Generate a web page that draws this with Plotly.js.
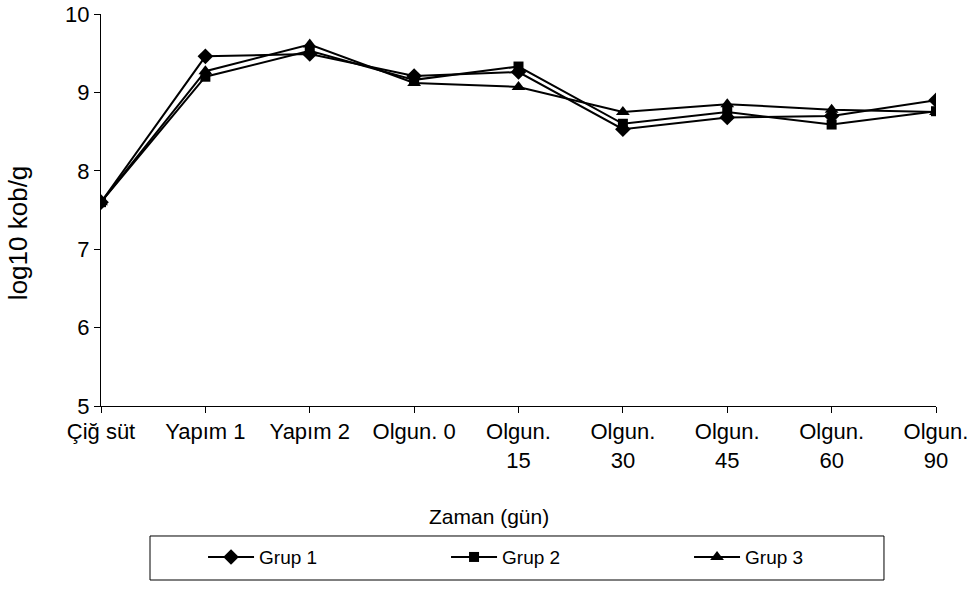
<!DOCTYPE html>
<html>
<head>
<meta charset="utf-8">
<script src="https://cdn.plot.ly/plotly-3.0.1.min.js"></script>
<style>html,body{margin:0;padding:0;background:#fff;}#chart{width:976px;height:593px;}</style>
</head>
<body>
<div id="chart"></div>
<script>
var categories = ["Çiğ süt", "Yapım 1", "Yapım 2", "Olgun. 0", "Olgun.<br>15", "Olgun.<br>30", "Olgun.<br>45", "Olgun.<br>60", "Olgun.<br>90"];
var grup1 = [7.60, 9.46, 9.49, 9.21, 9.26, 8.53, 8.68, 8.70, 8.90];
var grup2 = [7.60, 9.20, 9.53, 9.16, 9.33, 8.60, 8.75, 8.59, 8.76];
var grup3 = [7.60, 9.27, 9.61, 9.12, 9.07, 8.75, 8.85, 8.78, 8.75];
var seriesNames = ["Grup 1", "Grup 2", "Grup 3"];
var xTitle = "Zaman (gün)";
var yTitle = "log10 kob/g";
var symbols = ["diamond", "square", "triangle-up"];
var sizes = [12, 10, 12];
var values = [grup1, grup2, grup3];

var traces = values.map(function (v, i) {
  return {
    x: categories,
    y: v,
    name: seriesNames[i],
    type: "scatter",
    mode: "lines+markers",
    line: {color: "#000000", width: 2},
    marker: {symbol: symbols[i], size: sizes[i], color: "#000000"}
  };
});

var fam = "Liberation Sans, Arial, sans-serif";
var tickFont = {family: fam, size: 22, color: "#000000"};
var xTitleFont = {family: fam, size: 21, color: "#000000"};
var yTitleFont = {family: fam, size: 26, color: "#000000"};
var legendFont = {family: fam, size: 19, color: "#000000"};

var layout = {
  width: 976,
  height: 593,
  margin: {l: 101, r: 40, t: 14, b: 187, autoexpand: false},
  paper_bgcolor: "#ffffff",
  plot_bgcolor: "#ffffff",
  font: tickFont,
  showlegend: true,
  xaxis: {
    type: "category",
    range: [0, 8],
    automargin: false,
    showgrid: false,
    zeroline: false,
    showline: true,
    linecolor: "#000000",
    linewidth: 1,
    ticks: "outside",
    ticklen: 6,
    tickcolor: "#000000",
    tickfont: tickFont
  },
  yaxis: {
    range: [5, 10],
    dtick: 1,
    automargin: false,
    showgrid: false,
    zeroline: false,
    showline: true,
    linecolor: "#000000",
    linewidth: 1,
    ticks: "outside",
    ticklen: 6,
    tickcolor: "#000000",
    tickfont: tickFont
  },
  annotations: [{
    text: xTitle,
    xref: "paper", yref: "paper",
    x: 0.4647, y: -0.283,
    xanchor: "center", yanchor: "middle",
    showarrow: false,
    font: xTitleFont
  }, {
    text: yTitle,
    xref: "paper", yref: "paper",
    x: -0.0994, y: 0.441,
    xanchor: "center", yanchor: "middle",
    textangle: -90,
    showarrow: false,
    font: yTitleFont
  }],
  legend: {
    orientation: "h",
    x: 0.1222,
    xanchor: "left",
    y: -0.337,
    yanchor: "top",
    borderwidth: 0,
    bgcolor: "rgba(0,0,0,0)",
    font: legendFont,
    entrywidth: 182,
    itemwidth: 46
  },
  shapes: [{
    type: "rect",
    xref: "paper", yref: "paper",
    x0: 0.0587, x1: 0.9377, y0: -0.4439, y1: -0.3316,
    line: {color: "#000000", width: 1},
    fillcolor: "rgba(0,0,0,0)",
    layer: "below"
  }]
};

Plotly.newPlot("chart", traces, layout, {displayModeBar: false, staticPlot: true});
</script>
</body>
</html>
